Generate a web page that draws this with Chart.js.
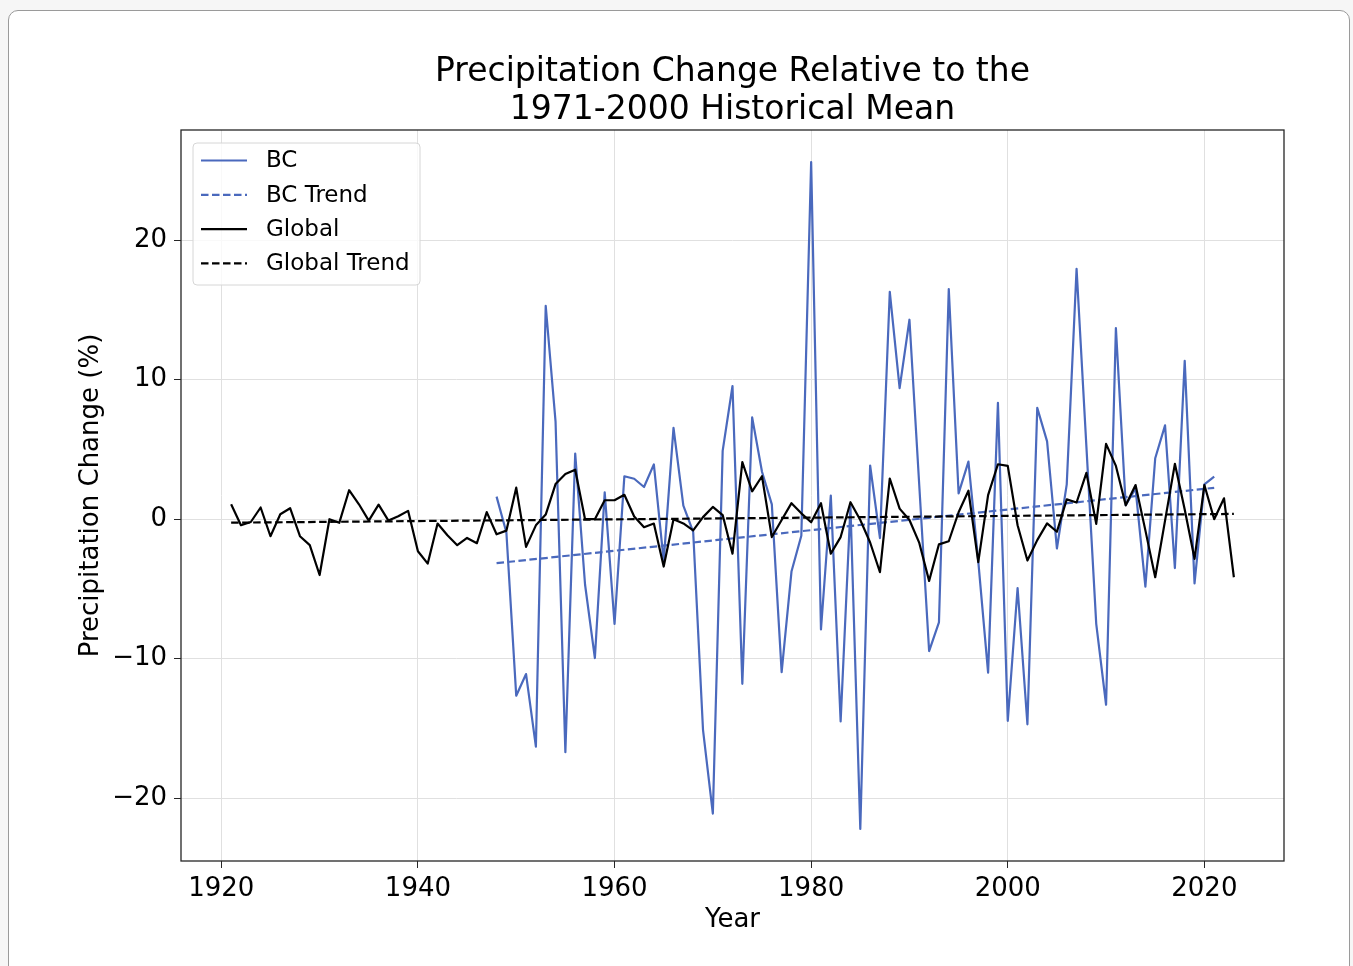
<!DOCTYPE html>
<html>
<head>
<meta charset="utf-8">
<script src="https://cdn.jsdelivr.net/npm/chart.js@4.4.1/dist/chart.umd.min.js"></script>
<style>
  html, body { margin: 0; padding: 0; background: #f6f6f6; }
  body { width: 1353px; height: 966px; position: relative; overflow: hidden; font-family: "DejaVu Sans", sans-serif; }
  #card { position: absolute; left: 8px; top: 10px; width: 1342px; height: 1000px; background: #ffffff;
          border: 1px solid #9a9a9a; border-radius: 10px; box-sizing: border-box; }
  #chart { position: absolute; left: 0; top: 0; }
</style>
</head>
<body>
<div id="card"></div>
<canvas id="chart" width="1353" height="966"></canvas>
<script>
// Annual precipitation anomaly (%) relative to the 1971-2000 mean
const globalYears = [
  1921,1922,1923,1924,1925,1926,1927,1928,1929,1930,
  1931,1932,1933,1934,1935,1936,1937,1938,1939,1940,
  1941,1942,1943,1944,1945,1946,1947,1948,1949,1950,
  1951,1952,1953,1954,1955,1956,1957,1958,1959,1960,
  1961,1962,1963,1964,1965,1966,1967,1968,1969,1970,
  1971,1972,1973,1974,1975,1976,1977,1978,1979,1980,
  1981,1982,1983,1984,1985,1986,1987,1988,1989,1990,
  1991,1992,1993,1994,1995,1996,1997,1998,1999,2000,
  2001,2002,2003,2004,2005,2006,2007,2008,2009,2010,
  2011,2012,2013,2014,2015,2016,2017,2018,2019,2020,
  2021,2022,2023
];
const globalValues = [
  1.07,-0.43,-0.2,0.84,-1.22,0.36,0.79,-1.22,-1.86,-4.0,
  0.0,-0.26,2.08,1.07,-0.1,1.05,-0.1,0.21,0.6,-2.3,
  -3.18,-0.31,-1.15,-1.86,-1.34,-1.72,0.51,-1.08,-0.82,2.26,
  -1.98,-0.44,0.33,2.52,3.24,3.55,0.0,0.0,1.36,1.36,
  1.75,0.2,-0.57,-0.31,-3.39,0.0,-0.3,-0.8,0.15,0.88,
  0.3,-2.47,4.1,2.0,3.08,-1.28,-0.06,1.15,0.42,-0.22,
  1.15,-2.47,-1.28,1.22,-0.06,-1.67,-3.8,2.92,0.76,-0.06,
  -1.7,-4.42,-1.8,-1.58,0.5,2.04,-3.08,1.73,3.94,3.82,
  -0.43,-2.96,-1.5,-0.3,-0.9,1.42,1.2,3.32,-0.33,5.4,
  3.82,1.0,2.45,-0.8,-4.16,-0.1,3.97,0.7,-2.84,2.45,
  0.0,1.5,-4.16
];

const bcYears = [
  1948,1949,1950,1951,1952,1953,1954,1955,1956,1957,
  1958,1959,1960,1961,1962,1963,1964,1965,1966,1967,
  1968,1969,1970,1971,1972,1973,1974,1975,1976,1977,
  1978,1979,1980,1981,1982,1983,1984,1985,1986,1987,
  1988,1989,1990,1991,1992,1993,1994,1995,1996,1997,
  1998,1999,2000,2001,2002,2003,2004,2005,2006,2007,
  2008,2009,2010,2011,2012,2013,2014,2015,2016,2017,
  2018,2019,2020,2021
];
const bcValues = [
  1.62,-0.95,-12.65,-11.1,-16.3,15.3,7.0,-16.7,4.7,-4.68,
  -9.95,1.93,-7.5,3.08,2.9,2.31,3.93,-3.0,6.55,0.98,
  -0.9,-15.1,-21.1,4.9,9.55,-11.8,7.3,3.4,1.06,-10.96,
  -3.75,-1.19,25.6,-7.9,1.7,-14.5,0.9,-22.2,3.85,-1.35,
  16.3,9.4,14.3,2.4,-9.45,-7.4,16.5,1.85,4.13,-3.0,
  -11.0,8.34,-14.45,-4.93,-14.7,7.98,5.58,-2.1,2.5,17.95,
  5.2,-7.5,-13.3,13.7,1.0,2.2,-4.83,4.37,6.73,-3.5,
  11.35,-4.6,2.5,3.05
];

// Linear trend lines (end points)
const bcTrendYears = [1948, 2021];
const bcTrendValues = [-3.15, 2.25];
const globalTrendYears = [1921, 2023];
const globalTrendValues = [-0.25, 0.38];

// Axis ticks
const xTickValues = [1920, 1940, 1960, 1980, 2000, 2020];
const yTickValues = [-20, -10, 0, 10, 20];

const titleLines = ['Precipitation Change Relative to the', '1971-2000 Historical Mean'];

const BLUE = '#4a69bd';
const FONT = '"DejaVu Sans", sans-serif';

const toPoints = (xs, ys) => xs.map((x, i) => ({ x: x, y: ys[i] }));

// Plot frame, title and in-plot legend
const decorations = {
  id: 'decorations',
  beforeDatasetsDraw(chart) {
    const ctx = chart.ctx;
    const a = chart.chartArea;
    ctx.save();
    ctx.strokeStyle = '#262626';
    ctx.lineWidth = 1.3;
    ctx.strokeRect(a.left, a.top, a.right - a.left, a.bottom - a.top);
    ctx.restore();
  },
  afterDraw(chart) {
    const ctx = chart.ctx;
    const a = chart.chartArea;
    ctx.save();
    // title
    ctx.fillStyle = '#000';
    ctx.font = '33px ' + FONT;
    ctx.textAlign = 'center';
    ctx.textBaseline = 'alphabetic';
    const cx = (a.left + a.right) / 2;
    ctx.fillText(titleLines[0], cx, 81);
    ctx.fillText(titleLines[1], cx, 119);

    // legend
    const lx = a.left + 12, ly = a.top + 13, lw = 227, lh = 142;
    ctx.beginPath();
    ctx.roundRect(lx, ly, lw, lh, 4);
    ctx.fillStyle = 'rgba(255,255,255,0.8)';
    ctx.fill();
    ctx.strokeStyle = '#d6d6d6';
    ctx.lineWidth = 1;
    ctx.stroke();
    const sets = chart.data.datasets;
    ctx.font = '23px ' + FONT;
    ctx.textAlign = 'left';
    ctx.textBaseline = 'middle';
    sets.forEach((ds, i) => {
      const y = ly + 17.5 + i * 34.3;
      ctx.beginPath();
      ctx.setLineDash(ds.borderDash || []);
      ctx.strokeStyle = ds.borderColor;
      ctx.lineWidth = ds.borderWidth;
      ctx.moveTo(lx + 8, y);
      ctx.lineTo(lx + 54, y);
      ctx.stroke();
      ctx.setLineDash([]);
      ctx.fillStyle = '#000';
      ctx.fillText(ds.label, lx + 73, y + 1);
    });
    ctx.restore();
  }
};

new Chart(document.getElementById('chart'), {
  type: 'line',
  data: {
    datasets: [
      { label: 'BC', data: toPoints(bcYears, bcValues), borderColor: BLUE, borderWidth: 2.2, order: 4 },
      { label: 'BC Trend', data: toPoints(bcTrendYears, bcTrendValues), borderColor: BLUE, borderWidth: 2.2,
        borderDash: [7.5, 3.5], order: 3 },
      { label: 'Global', data: toPoints(globalYears, globalValues), borderColor: '#000000', borderWidth: 2.2, order: 2 },
      { label: 'Global Trend', data: toPoints(globalTrendYears, globalTrendValues), borderColor: '#000000', borderWidth: 2.2,
        borderDash: [7.5, 3.5], order: 1 }
    ]
  },
  options: {
    responsive: false,
    animation: false,
    devicePixelRatio: 1,
    elements: {
      point: { radius: 0, hoverRadius: 0 },
      line: { tension: 0, borderJoinStyle: 'round', borderCapStyle: 'butt', fill: false }
    },
    layout: { padding: { left: 76, right: 69, top: 130, bottom: 30 } },
    plugins: {
      legend: { display: false },
      title: { display: false },
      tooltip: { enabled: false }
    },
    scales: {
      x: {
        type: 'linear',
        min: 1915.9,
        max: 2028.1,
        afterFit(scale) { scale.height = 75; },
        afterBuildTicks(scale) { scale.ticks = xTickValues.map(v => ({ value: v })); },
        border: { display: false },
        grid: { color: '#e0e0e0', lineWidth: 1, tickLength: 7, tickColor: '#262626', drawTicks: true },
        ticks: {
          color: '#000', padding: 6, maxRotation: 0, autoSkip: false,
          font: { family: FONT, size: 26 },
          callback: v => String(v)
        },
        title: { display: true, text: 'Year', color: '#000', font: { family: FONT, size: 26 }, padding: { top: 9, bottom: 0 } }
      },
      y: {
        type: 'linear',
        min: -24.5,
        max: 27.9,
        afterFit(scale) { scale.width = 105; },
        afterBuildTicks(scale) { scale.ticks = yTickValues.map(v => ({ value: v })); },
        border: { display: false },
        grid: { color: '#e0e0e0', lineWidth: 1, tickLength: 7, tickColor: '#262626', drawTicks: true },
        ticks: {
          color: '#000', padding: 7, autoSkip: false,
          font: { family: FONT, size: 26 },
          callback: v => (v < 0 ? '\u2212' + Math.abs(v) : String(v))
        },
        title: { display: true, text: 'Precipitation Change (%)', color: '#000', font: { family: FONT, size: 26 }, padding: { top: 0, bottom: 0 } }
      }
    }
  },
  plugins: [decorations]
});
</script>
</body>
</html>
